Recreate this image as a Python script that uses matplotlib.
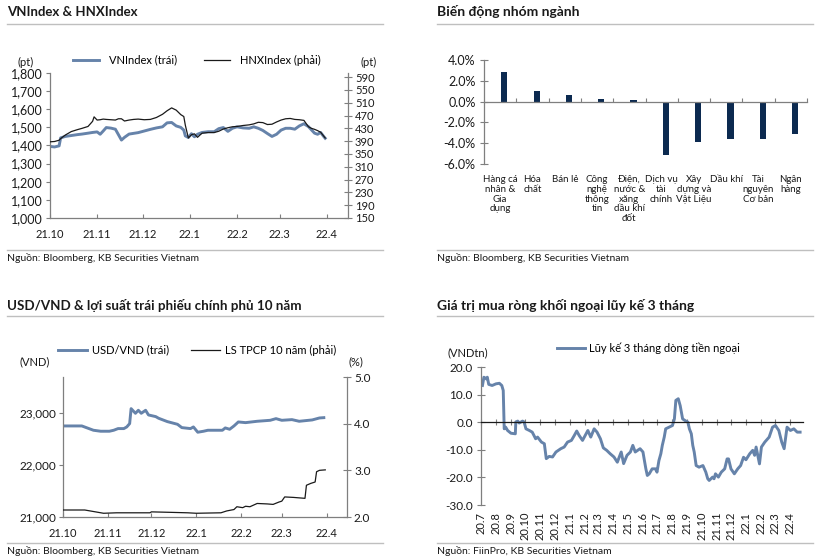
import matplotlib
matplotlib.use('Agg')
import matplotlib.pyplot as plt
import matplotlib.dates as mdates
from matplotlib.lines import Line2D
from matplotlib.ticker import FuncFormatter, FixedLocator, MultipleLocator
import pandas as pd

plt.rcParams['font.family'] = ['Lato', 'Open Sans', 'DejaVu Sans']

# ---------------- data ----------------
# Panel 1: VNIndex & HNXIndex
idx_dates = ['2021-10-01', '2021-10-04', '2021-10-07', '2021-10-08', '2021-10-11', '2021-10-15',
             '2021-10-19', '2021-10-22', '2021-10-26', '2021-10-29', '2021-10-30', '2021-11-01',
             '2021-11-03', '2021-11-05', '2021-11-07', '2021-11-10', '2021-11-13', '2021-11-15',
             '2021-11-17', '2021-11-19', '2021-11-22', '2021-11-25', '2021-11-28', '2021-12-02',
             '2021-12-06', '2021-12-10', '2021-12-14', '2021-12-17', '2021-12-20', '2021-12-23',
             '2021-12-26', '2021-12-28', '2021-12-29', '2021-12-31', '2022-01-02', '2022-01-04',
             '2022-01-06', '2022-01-09', '2022-01-13', '2022-01-17', '2022-01-20', '2022-01-23',
             '2022-01-26', '2022-01-29', '2022-02-01', '2022-02-05', '2022-02-09', '2022-02-12',
             '2022-02-15', '2022-02-18', '2022-02-21', '2022-02-24', '2022-02-27', '2022-03-02',
             '2022-03-05', '2022-03-08', '2022-03-11', '2022-03-14', '2022-03-17', '2022-03-20',
             '2022-03-22', '2022-03-24', '2022-03-26', '2022-03-28', '2022-03-30', '2022-03-31']
vnindex = [1395, 1392, 1398, 1442, 1450, 1455, 1460, 1463, 1468, 1472, 1473, 1475,
           1462, 1480, 1499, 1496, 1490, 1460, 1430, 1445, 1463, 1467, 1471, 1480,
           1489, 1497, 1503, 1525, 1527, 1508, 1500, 1485, 1453, 1444, 1465, 1448,
           1462, 1472, 1476, 1476, 1493, 1499, 1478, 1495, 1503, 1497, 1495, 1503,
           1495, 1483, 1466, 1450, 1462, 1485, 1495, 1495, 1490, 1508, 1520, 1504,
           1486, 1468, 1462, 1472, 1450, 1440]
hnxindex = [388, 389, 393, 398, 409, 420, 426, 430, 436, 452, 466, 456,
            457, 459, 458, 457, 456, 460, 460, 453, 456, 458, 459, 457,
            458, 464, 474, 485, 494, 487, 473, 467, 440, 400, 410, 413,
            402, 415, 417, 417, 421, 428, 432, 435, 436, 439, 441, 444,
            449, 448, 442, 443, 450, 456, 460, 461, 458, 457, 455, 435,
            430, 427, 423, 418, 406, 400]

# Panel 2: sector performance
sectors = ['Hàng cá\nnhân &\nGia\ndụng', 'Hóa\nchất', 'Bán lẻ', 'Công\nnghệ\nthông\ntin',
           'Điện,\nnước &\nxăng\ndầu khí\nđốt', 'Dịch vụ\ntài\nchính', 'Xây\ndựng và\nVật Liệu',
           'Dầu khí', 'Tài\nnguyên\nCơ bản', 'Ngân\nhàng']
sector_chg = [2.85, 1.0, 0.62, 0.25, 0.15, -5.17, -3.87, -3.6, -3.6, -3.1]

# Panel 3: USD/VND & 10Y government bond yield
fx_dates = ['2021-10-01', '2021-10-14', '2021-10-22', '2021-10-27', '2021-11-02', '2021-11-05',
            '2021-11-08', '2021-11-12', '2021-11-14', '2021-11-16', '2021-11-17', '2021-11-20',
            '2021-11-22', '2021-11-24', '2021-11-27', '2021-11-29', '2021-12-04', '2021-12-06',
            '2021-12-09', '2021-12-12', '2021-12-19', '2021-12-22', '2021-12-28', '2021-12-30',
            '2022-01-02', '2022-01-06', '2022-01-09', '2022-01-19', '2022-01-21', '2022-01-24',
            '2022-01-27', '2022-01-30', '2022-02-04', '2022-02-12', '2022-02-21', '2022-02-25',
            '2022-03-01', '2022-03-08', '2022-03-13', '2022-03-22', '2022-03-27', '2022-03-30']
usdvnd = [22756, 22756, 22673, 22654, 22654, 22673, 22705, 22705, 22737, 22801, 23090, 23000,
          23058, 23000, 23058, 22968, 22936, 22904, 22872, 22840, 22788, 22724, 22705, 22737,
          22635, 22654, 22673, 22673, 22718, 22692, 22756, 22833, 22820, 22846, 22865, 22897,
          22865, 22878, 22846, 22872, 22910, 22916]
bond_dates = ['2021-10-01', '2021-10-16', '2021-10-29', '2021-11-07', '2021-11-30', '2021-12-01',
              '2021-12-14', '2021-12-26', '2022-01-01', '2022-01-18', '2022-01-22', '2022-01-27',
              '2022-01-29', '2022-02-02', '2022-02-04', '2022-02-07', '2022-02-12', '2022-02-19',
              '2022-02-23', '2022-02-27', '2022-03-01', '2022-03-03', '2022-03-09', '2022-03-17',
              '2022-03-18', '2022-03-21', '2022-03-24', '2022-03-25', '2022-03-27', '2022-03-31']
bond_yield = [2.15, 2.15, 2.08, 2.09, 2.09, 2.11, 2.10, 2.09, 2.08, 2.09, 2.13, 2.16,
              2.22, 2.20, 2.23, 2.22, 2.29, 2.28, 2.27, 2.32, 2.34, 2.43, 2.42, 2.40,
              2.68, 2.72, 2.75, 2.97, 3.00, 3.01]

# Panel 4: foreign net buying, 3-month cumulative (VND trillion)
ff_dates = ['2020-07-04', '2020-07-07', '2020-07-12', '2020-07-14', '2020-07-17', '2020-07-24',
            '2020-08-01', '2020-08-08', '2020-08-13', '2020-08-16', '2020-08-18', '2020-08-21',
            '2020-08-25', '2020-09-01', '2020-09-10', '2020-09-11', '2020-09-15', '2020-09-18',
            '2020-09-25', '2020-09-28', '2020-10-02', '2020-10-09', '2020-10-15', '2020-10-22',
            '2020-10-26', '2020-11-03', '2020-11-09', '2020-11-13', '2020-11-19', '2020-11-26',
            '2020-12-03', '2020-12-13', '2020-12-20', '2020-12-27', '2021-01-04', '2021-01-10',
            '2021-01-15', '2021-01-20', '2021-01-27', '2021-02-07', '2021-02-13', '2021-02-20',
            '2021-02-26', '2021-03-05', '2021-03-11', '2021-03-18', '2021-03-25', '2021-04-02',
            '2021-04-09', '2021-04-13', '2021-04-17', '2021-04-22', '2021-04-29', '2021-05-06',
            '2021-05-11', '2021-05-16', '2021-05-26', '2021-06-01', '2021-06-04', '2021-06-07',
            '2021-06-10', '2021-06-14', '2021-06-20', '2021-06-27', '2021-06-30', '2021-07-04',
            '2021-07-08', '2021-07-11', '2021-07-15', '2021-07-18', '2021-07-25', '2021-08-01',
            '2021-08-05', '2021-08-08', '2021-08-13', '2021-08-17', '2021-08-22', '2021-08-27',
            '2021-09-02', '2021-09-05', '2021-09-09', '2021-09-12', '2021-09-15', '2021-09-19',
            '2021-09-25', '2021-10-03', '2021-10-09', '2021-10-13', '2021-10-16', '2021-10-23',
            '2021-10-26', '2021-10-29', '2021-11-04', '2021-11-10', '2021-11-17', '2021-11-22',
            '2021-11-25', '2021-11-30', '2021-12-07', '2021-12-14', '2021-12-20', '2021-12-26',
            '2021-12-31', '2022-01-08', '2022-01-14', '2022-01-18', '2022-01-21', '2022-01-28',
            '2022-02-01', '2022-02-08', '2022-02-17', '2022-02-24', '2022-03-02', '2022-03-09',
            '2022-03-15', '2022-03-20', '2022-03-26', '2022-04-02', '2022-04-09', '2022-04-16',
            '2022-04-22']
ff_value = [13.3, 16.3, 15.7, 16.3, 13.7, 13.3,
            13.9, 14.1, 13.3, 11.5, -2.4, -1.8,
            -3.0, -4.0, -4.2, 0.1, 0.4, -0.3,
            0.4, 0.1, -2.4, -3.0, -3.6, -6.0,
            -5.4, -7.2, -7.8, -13.2, -12.4, -12.6,
            -10.8, -9.6, -9.0, -7.2, -6.6, -4.8,
            -3.2, -4.8, -6.6, -3.0, -5.4, -2.4,
            -3.6, -6.0, -9.3, -10.2, -11.4, -12.6,
            -14.5, -12.6, -10.8, -15.0, -12.0, -10.8,
            -8.4, -10.8, -9.6, -10.8, -13.9, -16.9,
            -19.3, -18.7, -16.9, -16.9, -18.1, -13.9,
            -11.4, -8.4, -5.4, -2.4, -1.8, -1.2,
            1.2, 7.9, 8.5, 6.0, 1.2, 0.6,
            0.0, -2.4, -4.2, -8.4, -10.8, -15.7,
            -16.3, -15.7, -18.1, -20.5, -21.1, -19.9,
            -20.5, -18.7, -19.9, -18.1, -16.9, -13.3,
            -13.3, -16.9, -18.7, -16.9, -15.7, -12.7,
            -13.6, -11.4, -10.2, -12.0, -9.0, -15.1,
            -9.0, -7.2, -5.4, -1.8, -1.2, -3.0,
            -7.2, -9.6, -1.8, -3.0, -2.4, -3.6,
            -3.6]

# ---------------- style ----------------
W, H = 821, 557
BLUE = '#6683aa'
NAVY = '#0c2a50'
DARK = '#1a1a1a'
SPINE = '#7f7f7f'
SEP = '#bfbfbf'

fig = plt.figure(figsize=(W / 100, H / 100), dpi=100)


def box(l, t, r, b):
    return [l / W, 1 - b / H, (r - l) / W, (b - t) / H]


def ftext(x, y, s, **kw):
    kw.setdefault('color', DARK)
    fig.text(x / W, 1 - y / H, s, **kw)


def hline(x0, x1, y):
    fig.add_artist(Line2D([x0 / W, x1 / W], [1 - y / H, 1 - y / H],
                          transform=fig.transFigure, color=SEP, lw=1.0))


def month_fmt(x, pos=None):
    d = mdates.num2date(x)
    return f"{d.year % 100}.{d.month}"


def style_spines(ax, keep):
    for k, s in ax.spines.items():
        if k in keep:
            s.set_color(SPINE)
            s.set_linewidth(0.9)
        else:
            s.set_visible(False)


# titles / separators / footers
ftext(7, 12, 'VNIndex & HNXIndex', fontsize=9.5, fontweight='bold', va='center')
hline(7, 383, 23.5)
hline(7, 383, 250)
ftext(7, 258, 'Nguồn: Bloomberg, KB Securities Vietnam', fontsize=7.5, va='center')

ftext(437, 12, 'Biến động nhóm ngành', fontsize=10, fontweight='bold', va='center')
hline(437, 813, 23.5)
hline(437, 813, 250)
ftext(437, 258, 'Nguồn: Bloomberg, KB Securities Vietnam', fontsize=7.5, va='center')

ftext(7, 305, 'USD/VND & lợi suất trái phiếu chính phủ 10 năm', fontsize=9.6, fontweight='bold', va='center')
hline(7, 383, 316)
hline(7, 383, 543)
ftext(7, 551, 'Nguồn: Bloomberg, KB Securities Vietnam', fontsize=7.5, va='center')

ftext(437, 305, 'Giá trị mua ròng khối ngoại lũy kế 3 tháng', fontsize=10, fontweight='bold', va='center')
hline(437, 813, 316)
hline(437, 813, 543)
ftext(437, 551, 'Nguồn: FiinPro, KB Securities Vietnam', fontsize=7.5, va='center')

# ---------------- Panel 1 ----------------
ax1 = fig.add_axes(box(50, 73, 348, 218))
d1 = pd.to_datetime(idx_dates)
l1, = ax1.plot(d1, vnindex, color=BLUE, lw=2.1, label='VNIndex (trái)')
ax1.set_ylim(1000, 1800)
ax1.set_xlim(pd.Timestamp('2021-10-01'), pd.Timestamp('2022-04-15'))
ax1.yaxis.set_major_locator(MultipleLocator(100))
ax1.yaxis.set_major_formatter(FuncFormatter(lambda v, p: f"{v:,.0f}"))
ax1.xaxis.set_major_locator(mdates.MonthLocator())
ax1.xaxis.set_major_formatter(FuncFormatter(month_fmt))
ax1.tick_params(axis='y', direction='out', length=3, width=0.8, color=SPINE, labelsize=9, pad=2, labelcolor=DARK)
ax1.tick_params(axis='x', direction='in', length=3, width=0.8, color=SPINE, labelsize=8, pad=8, labelcolor=DARK)
style_spines(ax1, ['left', 'bottom'])
ax1r = ax1.twinx()
l2, = ax1r.plot(d1, hnxindex, color=DARK, lw=0.9, label='HNXIndex (phải)')
ax1r.set_ylim(150, 603)
ax1r.yaxis.set_major_locator(FixedLocator(list(range(150, 591, 40))))
ax1r.tick_params(axis='y', direction='inout', length=6, width=0.8, color=SPINE, labelsize=8, pad=2, labelcolor=DARK)
style_spines(ax1r, ['right'])
ax1r.legend(handles=[l1, l2], loc='center left', bbox_to_anchor=(73 / W, 1 - 60 / H),
            bbox_transform=fig.transFigure, ncol=2, frameon=False, fontsize=8,
            handlelength=2.3, handletextpad=0.9, columnspacing=2.5, borderpad=0, borderaxespad=0)
ftext(17, 62, '(pt)', fontsize=8, va='center')
ftext(360, 62, '(pt)', fontsize=8, va='center')

# ---------------- Panel 2 ----------------
ax2 = fig.add_axes(box(484, 60, 807, 164))
xs = list(range(len(sectors)))
ax2.bar([x + 0.13 for x in xs], sector_chg, width=0.19, color=NAVY)
ax2.set_xlim(-0.5, len(sectors) - 0.5)
ax2.set_ylim(-6, 4)
ax2.yaxis.set_major_locator(MultipleLocator(2))
ax2.yaxis.set_major_formatter(FuncFormatter(lambda v, p: f"{v:.1f}%"))
ax2.spines['bottom'].set_position(('data', 0))
ax2.set_xticks(xs)
ax2.set_xticklabels(sectors, fontsize=7, linespacing=1.1)
ax2.set_xticks([x + 0.5 for x in xs], minor=True)
ax2.tick_params(axis='x', which='major', length=0, pad=53, labelcolor=DARK)
ax2.tick_params(axis='x', which='minor', direction='in', length=3, width=0.8, color=SPINE)
ax2.tick_params(axis='y', direction='inout', length=6, width=0.8, color=SPINE, labelsize=9, pad=3, labelcolor=DARK)
style_spines(ax2, ['left', 'bottom'])

# ---------------- Panel 3 ----------------
ax3 = fig.add_axes(box(63, 377, 347, 517))
d3 = pd.to_datetime(fx_dates)
l3, = ax3.plot(d3, usdvnd, color=BLUE, lw=2.1, label='USD/VND (trái)')
ax3.set_ylim(21000, 23700)
ax3.set_xlim(pd.Timestamp('2021-10-01'), pd.Timestamp('2022-04-15'))
ax3.yaxis.set_major_locator(FixedLocator([21000, 22000, 23000]))
ax3.yaxis.set_major_formatter(FuncFormatter(lambda v, p: f"{v:,.0f}"))
ax3.xaxis.set_major_locator(mdates.MonthLocator())
ax3.xaxis.set_major_formatter(FuncFormatter(month_fmt))
ax3.tick_params(axis='y', direction='out', length=3, width=0.8, color=SPINE, labelsize=8.5, pad=2, labelcolor=DARK)
ax3.tick_params(axis='x', direction='in', length=3, width=0.8, color=SPINE, labelsize=8, pad=8, labelcolor=DARK)
style_spines(ax3, ['left', 'bottom'])
ax3r = ax3.twinx()
l4, = ax3r.plot(pd.to_datetime(bond_dates), bond_yield, color=DARK, lw=0.9, label='LS TPCP 10 năm (phải)')
ax3r.set_ylim(2.0, 5.0)
ax3r.yaxis.set_major_locator(MultipleLocator(1.0))
ax3r.yaxis.set_major_formatter(FuncFormatter(lambda v, p: f"{v:.1f}"))
ax3r.tick_params(axis='y', direction='inout', length=6, width=0.8, color=SPINE, labelsize=8.5, pad=2, labelcolor=DARK)
style_spines(ax3r, ['right'])
ax3r.legend(handles=[l3, l4], loc='center left', bbox_to_anchor=(58 / W, 1 - 350 / H),
            bbox_transform=fig.transFigure, ncol=2, frameon=False, fontsize=8,
            handlelength=2.6, handletextpad=0.45, columnspacing=2.0, borderpad=0, borderaxespad=0)
ftext(20, 362, '(VND)', fontsize=8, va='center')
ftext(348, 362, '(%)', fontsize=8, va='center')

# ---------------- Panel 4 ----------------
ax4 = fig.add_axes(box(481, 367, 803, 505))
l5, = ax4.plot(pd.to_datetime(ff_dates), ff_value, color=BLUE, lw=2.1, label='Lũy kế 3 tháng dòng tiền ngoại')
ax4.set_ylim(-30, 20)
ax4.set_xlim(pd.Timestamp('2020-07-01'), pd.Timestamp('2022-04-28'))
ax4.yaxis.set_major_locator(MultipleLocator(10))
ax4.yaxis.set_major_formatter(FuncFormatter(lambda v, p: f"{v:.1f}"))
ax4.spines['bottom'].set_position(('data', 0))
ax4.xaxis.set_major_locator(mdates.MonthLocator())
ax4.xaxis.set_major_formatter(FuncFormatter(month_fmt))
ax4.tick_params(axis='x', direction='inout', length=5, width=0.8, color=SPINE, labelsize=8, pad=62,
                labelrotation=90, labelcolor=DARK)
ax4.tick_params(axis='y', direction='inout', length=6, width=0.8, color=SPINE, labelsize=8.5, pad=3, labelcolor=DARK)
style_spines(ax4, ['left', 'bottom'])
ax4.spines['bottom'].set_color(DARK)
ax4.legend(handles=[l5], loc='center left', bbox_to_anchor=(557 / W, 1 - 348 / H),
           bbox_transform=fig.transFigure, frameon=False, fontsize=8,
           handlelength=2.5, handletextpad=0.35, borderpad=0, borderaxespad=0)
ftext(447, 353, '(VNDtn)', fontsize=8, va='center')

fig.savefig('out.png', dpi=100)
